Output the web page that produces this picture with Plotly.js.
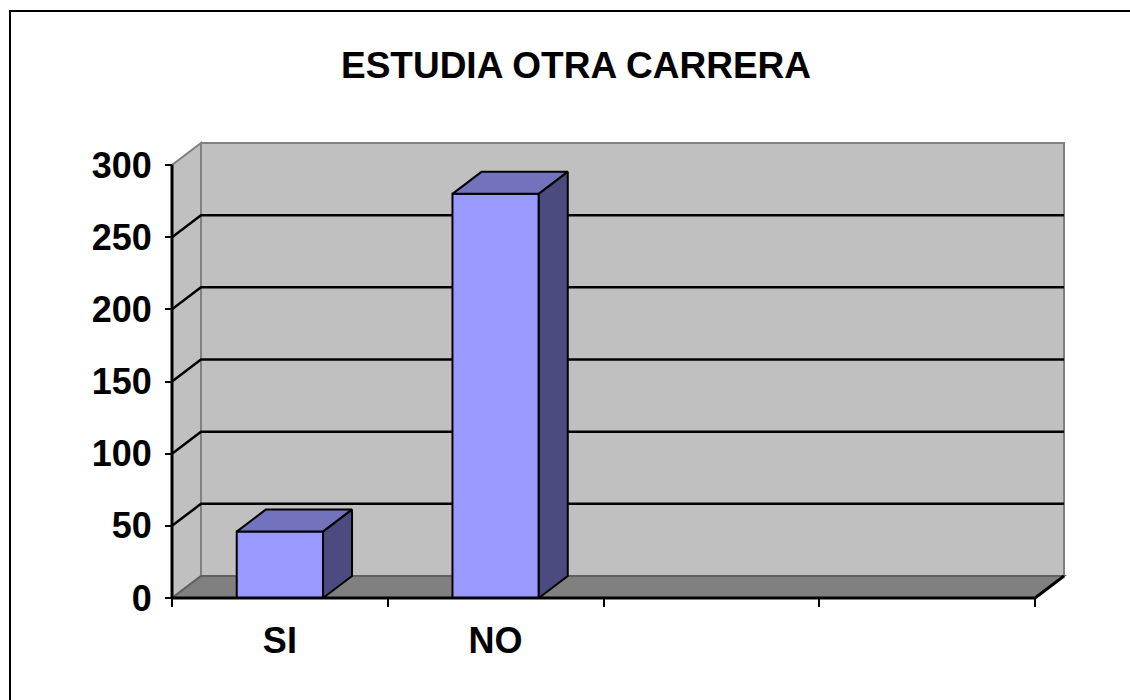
<!DOCTYPE html>
<html>
<head>
<meta charset="utf-8">
<script src="https://cdn.plot.ly/plotly-3.0.1.min.js"></script>
<style>
  html, body { margin: 0; padding: 0; background: #fff; overflow: hidden; }
  #wrap { position: relative; width: 1130px; height: 700px; }
  #chart { width: 1130px; height: 700px; }
  #frame { position: absolute; left: 9px; top: 10px; width: 1300px; height: 900px;
           border-left: 2px solid #000; border-top: 2px solid #000; pointer-events: none; }
</style>
</head>
<body>
<div id="wrap"><div id="chart"></div><div id="frame"></div></div>
<script>
// ---- data ----
const categories = ['SI', 'NO'];
const values = [46, 280];
const slotCount = 4;            // category slots on the axis (two are empty)
const yTickVals = [0, 50, 100, 150, 200, 250, 300];
const yMax = 300;
const chartTitle = 'ESTUDIA OTRA CARRERA';

// ---- geometry (pixels) ----
const X0 = 172, X1 = 1035;       // front x-axis ends
const Y0 = 598, YT = 165;        // front y-axis: value 0 and value yMax
const DX = 29, DY = 22;          // 3-D depth offset
const PAD = 3;
const pxX = (X1 - X0) / slotCount;
const pxY = (Y0 - YT) / yMax;
const dx = DX / pxX, dy = DY / pxY;
const barW = 0.4;

const W = 1130, H = 700;
const plotL = X0 - PAD, plotR = X1 + DX + PAD;
const plotT = YT - DY - PAD, plotB = Y0 + PAD;
const plotW = plotR - plotL, plotH = plotB - plotT;

const xMin = -0.5, xMax = slotCount - 0.5;
const xRange = [xMin - PAD / pxX, xMax + dx + PAD / pxX];
const yRange = [-PAD / pxY, yMax + dy + PAD / pxY];

const font = {family: 'Liberation Sans, Arial, sans-serif', size: 36, color: '#000', weight: 'bold'};
const titleFont = Object.assign({}, font, {size: 37});

// ---- decorations: walls, floor, gridlines ----
const shapes = [];
const poly = (pts) => 'M' + pts.map(p => p[0] + ',' + p[1]).join('L') + 'Z';
// back wall
shapes.push({type: 'path', layer: 'below', xref: 'x', yref: 'y',
  path: poly([[xMin + dx, dy], [xMax + dx, dy], [xMax + dx, yMax + dy], [xMin + dx, yMax + dy]]),
  fillcolor: '#c0c0c0', line: {color: '#808080', width: 2}});
// side wall
shapes.push({type: 'path', layer: 'below', xref: 'x', yref: 'y',
  path: poly([[xMin, 0], [xMin + dx, dy], [xMin + dx, yMax + dy], [xMin, yMax]]),
  fillcolor: '#c0c0c0', line: {color: '#808080', width: 2}});
// floor
shapes.push({type: 'path', layer: 'below', xref: 'x', yref: 'y',
  path: poly([[xMin, 0], [xMax, 0], [xMax + dx, dy], [xMin + dx, dy]]),
  fillcolor: '#808080', line: {color: '#606060', width: 2}});
// gridlines
yTickVals.forEach(v => {
  if (v === 0 || v === yMax) return;
  shapes.push({type: 'path', layer: 'below', xref: 'x', yref: 'y',
    path: 'M' + xMin + ',' + v + 'L' + (xMin + dx) + ',' + (v + dy) + 'L' + (xMax + dx) + ',' + (v + dy),
    line: {color: '#000', width: 2.5}});
});
// front axis lines
shapes.push({type: 'line', layer: 'above', xref: 'x', yref: 'y',
  x0: xMin, y0: 0, x1: xMin, y1: yMax, line: {color: '#000', width: 3}});
shapes.push({type: 'path', layer: 'above', xref: 'x', yref: 'y',
  path: 'M' + xMin + ',0L' + xMax + ',0L' + (xMax + dx) + ',' + dy,
  line: {color: '#000', width: 3}});

// ---- traces ----
const idx = categories.map((c, i) => i);
const traces = [];
traces.push({type: 'bar', x: idx, y: values, width: barW,
  marker: {color: '#9999ff', line: {color: '#000', width: 2}}, hoverinfo: 'skip', showlegend: false});
idx.forEach(i => {
  const v = values[i], l = i - barW / 2, r = i + barW / 2;
  // top face
  traces.push({type: 'scatter', mode: 'lines', fill: 'toself', fillcolor: '#7373bd',
    x: [l, r, r + dx, l + dx, l], y: [v, v, v + dy, v + dy, v],
    line: {color: '#000', width: 2}, hoverinfo: 'skip', showlegend: false});
  // side face
  traces.push({type: 'scatter', mode: 'lines', fill: 'toself', fillcolor: '#4b4b80',
    x: [r, r + dx, r + dx, r, r], y: [0, dy, v + dy, v, 0],
    line: {color: '#000', width: 2}, hoverinfo: 'skip', showlegend: false});
});

const layout = {
  width: W, height: H,
  margin: {l: plotL, r: W - plotR, t: plotT, b: H - plotB, pad: 0},
  paper_bgcolor: '#fff', plot_bgcolor: 'rgba(0,0,0,0)',
  showlegend: false,
  title: {text: chartTitle, font: titleFont, xref: 'container', yref: 'container',
          x: 576 / W, xanchor: 'center', y: 1 - 65 / H, yanchor: 'middle'},
  xaxis: {range: xRange, showgrid: false, zeroline: false, showline: false,
          anchor: 'free', position: PAD / plotH,
          tickmode: 'array', tickvals: idx, ticktext: categories, ticks: '',
          tickfont: font, ticklabelstandoff: 18,
          minor: {tickmode: 'linear', tick0: xMin, dtick: 1, ticks: 'outside', ticklen: 8, tickwidth: 2, tickcolor: '#000', showgrid: false},
          fixedrange: true},
  yaxis: {range: yRange, showgrid: false, zeroline: false, showline: false,
          anchor: 'free', position: PAD / plotW,
          tickmode: 'array', tickvals: yTickVals, ticks: 'outside', ticklen: 7, tickwidth: 2, tickcolor: '#000',
          tickfont: font, ticklabelstandoff: 6, fixedrange: true},
  shapes: shapes,
  bargap: 0
};

Plotly.newPlot('chart', traces, layout, {staticPlot: true, displayModeBar: false});
</script>
</body>
</html>
